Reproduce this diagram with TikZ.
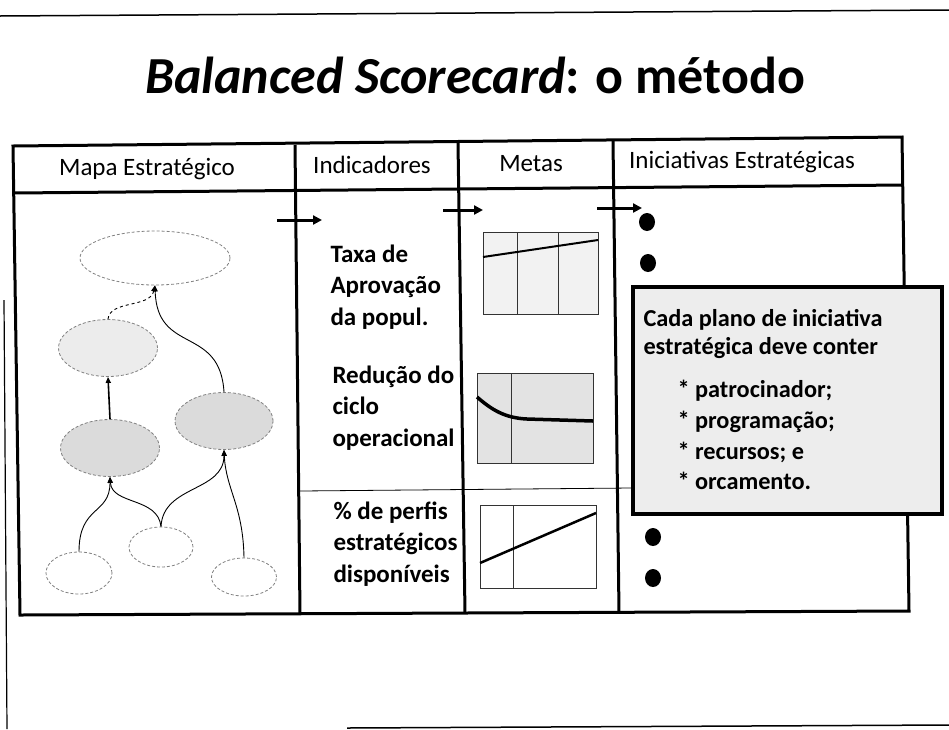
\documentclass[tikz,border=0pt]{standalone}
\usepackage{fontspec}
\setmainfont{Carlito}
\usepackage{tikz}
\usetikzlibrary{
    arrows.meta,
    positioning,
    shapes.geometric,
}
\tikzstyle{colarrow}=[line width=3pt, -{Triangle[length=9pt, width=9pt]}]
\tikzstyle{maparrow}=[line width=0.9pt, -{Triangle[length=6pt, width=5pt]}]
\tikzstyle{goal}=[ellipse, draw=gray, dash pattern=on 3pt off 2pt, line width=0.8pt, inner sep=0pt]
\tikzstyle{tableline}=[line width=3pt, line join=miter]
\tikzstyle{headtext}=[font=\fontsize{25}{28}\selectfont, anchor=base, inner sep=0pt]
\tikzstyle{indtext}=[font=\bfseries\fontsize{25}{31.5}\selectfont, align=left, anchor=north west, inner sep=0pt]
\tikzstyle{chart}=[draw=black!80, line width=1pt]
\tikzstyle{bulletdot}=[ellipse, fill=black, minimum width=16pt, minimum height=18pt, inner sep=0pt]
\tikzset{every picture/.style={x=1pt, y=-1pt, line width=1pt}}

\begin{document}
\begin{tikzpicture}
    \useasboundingbox (0,0) rectangle (949,729);
    % page frame
    \draw[line width=1.5pt] (0,16) -- (949,10);
    \draw[line width=1.2pt] (4,300) -- (7,729);
    \draw[line width=1.5pt] (347,728) -- (949,725);

    \node[font=\bfseries\fontsize{52}{54}\selectfont, anchor=base] (title) at (475,93) {\textit{Balanced Scorecard}: o método};

    % table
    \draw[tableline] (13,146) -- (902,137) -- (909,611) -- (20,615) -- cycle;
    \draw[tableline] (14,193) -- (903,185);
    \draw[tableline] (295,145) -- (300,614);
    \draw[tableline] (458,143) -- (465,613);
    \draw[tableline] (613,141) -- (619,612);
    \draw[line width=0.8pt] (300,491) -- (631,488);

    \node[headtext] (hmapa) at (147,175) {Mapa Estratégico};
    \node[headtext] (hind) at (372,173) {Indicadores};
    \node[headtext] (hmetas) at (531,171) {Metas};
    \node[headtext] (hinic) at (742,168) {Iniciativas Estratégicas};

    % strategy map
    \node[goal, minimum width=150pt, minimum height=54pt] (top) at (155,258) {};
    \node[goal, fill=gray!15, minimum width=99pt, minimum height=57pt] (mid) at (108,348) {};
    \node[goal, fill=gray!28, minimum width=99pt, minimum height=57pt] (left) at (110,448) {};
    \node[goal, fill=gray!28, minimum width=98pt, minimum height=57pt] (right) at (224,421) {};
    \node[goal, minimum width=66pt, minimum height=42pt] (base1) at (79,573) {};
    \node[goal, minimum width=64pt, minimum height=40pt] (base2) at (161,547) {};
    \node[goal, minimum width=65pt, minimum height=38pt] (base3) at (244,577) {};

    \draw[maparrow] (base1.north) .. controls (79,505) and (110,515) .. (left.south);
    \draw[maparrow] (base2.north) .. controls (158,497) and (112,505) .. (left.south);
    \draw[maparrow] (base2.north) .. controls (163,485) and (224,492) .. (right.south);
    \draw[maparrow] (base3.north) .. controls (243,505) and (226,490) .. (right.south);
    \draw[maparrow, line width=1.6pt] (left.north) -- (mid.south);
    \draw[maparrow, dashed] (mid.north) .. controls (110,300) and (150,308) .. (top.south);
    \draw[maparrow] (right.north) .. controls (220,325) and (157,355) .. (top.south);

    % indicators
    \node[indtext] (taxa) at (330,244) {Taxa de\\Aprovação\\da popul.};
    \node[indtext] (reducao) at (332,365) {Redução do\\ciclo\\operacional};
    \node[indtext] (perfis) at (333,501) {\% de perfis\\estratégicos\\disponíveis};

    % goals
    \draw[chart, fill=gray!10] (483,232) rectangle (598,314);
    \draw[chart] (517,232) -- (517,314) (558,232) -- (558,314);
    \draw[line width=2pt] (483,257) -- (598,240);
    \draw[chart, fill=gray!22] (477,373) rectangle (593,463);
    \draw[chart] (511,373) -- (511,463);
    \draw[line width=3.5pt] (477,397) .. controls (492,410) and (505,418) .. (527,419) -- (593,421);
    \draw[chart] (480,505) rectangle (596,588);
    \draw[chart] (513,505) -- (513,588);
    \draw[line width=2.5pt] (480,563) -- (596,513);

    \foreach \x/\y/\l [count=\i] in {277/220/45, 443/210/40, 597/208/45} {
        \coordinate (go\i) at (\x,\y);
        \draw[colarrow] (go\i) -- ++(\l,0);
    }

    % initiatives
    \node[bulletdot] (ini1) at (647,222) {};
    \node[bulletdot] (ini2) at (648,263) {};
    \node[bulletdot] (ini3) at (653,537) {};
    \node[bulletdot] (ini4) at (653,578) {};

    \node[draw, line width=3.5pt, fill=gray!14, anchor=north west, minimum width=309pt, minimum height=227pt, inner sep=0pt] (plano) at (631,285) {};
    \node[indtext, font=\bfseries\fontsize{24.3}{28.3}\selectfont] (planohead) at (643,309) {Cada plano de iniciativa\\estratégica deve conter};
    \node[indtext, font=\bfseries\fontsize{24.3}{30.7}\selectfont] (planolist) at (677,380) {* patrocinador;\\* programação;\\* recursos; e\\* orcamento.};
\end{tikzpicture}
\end{document}
